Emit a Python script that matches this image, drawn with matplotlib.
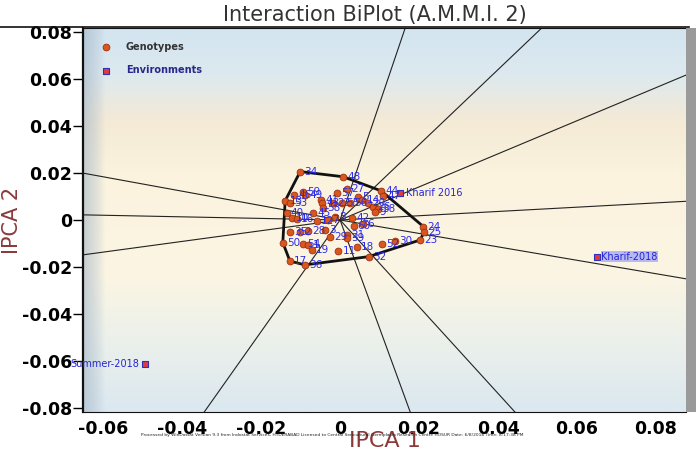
import numpy as np
import matplotlib.pyplot as plt
from matplotlib.lines import Line2D
from matplotlib.patches import Rectangle

plt.rcParams['font.family'] = ['DejaVu Sans']

# Genotype scores (IPCA 1, IPCA 2)
gen_labels = ['34', '48', '44', '24', '25', '23', '32', '36', '17', '50',
              '13', '53', '46', '59', '49', '41', '43', '58', '57', '27',
              '22', '55', '56', '5', '14', '20', '26', '38', '9', '47',
              '45', '40', '10', '16', '7', '8', '12', '42', '6', '60',
              '35', '2', '28', '3', '29', '21', '39', '52', '30', '54',
              '1', '19', '11', '18']
gen_x = [-0.0101, 0.0008, 0.0104, 0.0211, 0.0213, 0.0203, 0.0072, -0.0089, -0.0127, -0.0145,
         -0.0139, -0.0127, -0.0116, -0.0093, -0.0089, -0.0048, -0.0046, -0.0044, -0.0007, 0.0017,
         -0.0017, 0.0004, 0.0025, 0.0046, 0.0056, 0.0070, 0.0084, 0.0097, 0.0089, 0.0109,
         -0.0069, -0.0135, -0.0122, -0.0110, -0.0030, -0.0013, -0.0059, 0.0030, 0.0058, 0.0034,
         -0.0127, -0.0101, -0.0080, -0.0038, -0.0025, 0.0017, 0.0017, 0.0106, 0.0139, -0.0093,
         -0.0080, -0.0072, -0.0004, 0.0042]
gen_y = [0.0206, 0.0184, 0.0124, -0.0028, -0.0050, -0.0085, -0.0156, -0.0191, -0.0175, -0.0096,
         0.0082, 0.0074, 0.0106, 0.0121, 0.0106, 0.0085, 0.0071, 0.0050, 0.0113, 0.0130,
         0.0074, 0.0071, 0.0074, 0.0099, 0.0085, 0.0074, 0.0054, 0.0045, 0.0035, 0.0102,
         0.0028, 0.0031, 0.0007, 0.0004, 0.0000, 0.0014, -0.0003, 0.0007, -0.0017, -0.0026,
         -0.0050, -0.0050, -0.0045, -0.0043, -0.0074, -0.0064, -0.0078, -0.0102, -0.0088, -0.0102,
         -0.0106, -0.0128, -0.0131, -0.0116]

# Environment scores
env_names = ['Kharif 2016', 'Kharif-2018', 'Summer-2018']
env_x = [0.0152, 0.0651, -0.0494]
env_y = [0.0115, -0.0157, -0.0613]

ticks = [-0.08, -0.06, -0.04, -0.02, 0, 0.02, 0.04, 0.06, 0.08]


def convex_hull(points):
    pts = sorted(set(points))

    def cross(o, a, b):
        return (a[0] - o[0]) * (b[1] - o[1]) - (a[1] - o[1]) * (b[0] - o[0])

    lower, upper = [], []
    for p in pts:
        while len(lower) >= 2 and cross(lower[-2], lower[-1], p) <= 0:
            lower.pop()
        lower.append(p)
    for p in reversed(pts):
        while len(upper) >= 2 and cross(upper[-2], upper[-1], p) <= 0:
            upper.pop()
        upper.append(p)
    return lower[:-1] + upper[:-1]  # counter-clockwise


fig = plt.figure(figsize=(6.96, 4.55), dpi=100)
ax = fig.add_axes([83 / 696, 1 - 412 / 455, 603 / 696, 384 / 455])
xlim = (-0.0651, 0.0876)
ylim = (-0.0817, 0.0817)

# background gradient
stops_t = [0.0, 0.12, 0.24, 0.38, 0.65, 0.80, 1.0]
stops_c = ['#d3e5f1', '#dde9ef', '#f4ead6', '#fbf3de', '#fbf5e3', '#edf1ea', '#dbe8f0']
rgb = np.array([[int(c[i:i + 2], 16) / 255 for i in (1, 3, 5)] for c in stops_c])
tt = np.linspace(0, 1, 300)
vert = np.stack([np.interp(tt, stops_t, rgb[:, k]) for k in range(3)], axis=1)
img = np.repeat(vert[:, None, :], 300, axis=1)
fx = np.linspace(0, 1, 300)
edge = np.clip(1 - fx / 0.035, 0, 1)[None, :, None] ** 0.8 * 0.6
img = img * (1 - edge) + np.array([0.64, 0.71, 0.78]) * edge
ax.imshow(img, extent=[xlim[0], xlim[1], ylim[0], ylim[1]], aspect='auto', zorder=0)

# convex hull of genotypes and perpendicular rays
hull = convex_hull(list(zip(gen_x, gen_y)))
hx = [p[0] for p in hull] + [hull[0][0]]
hy = [p[1] for p in hull] + [hull[0][1]]
for i in range(len(hull)):
    p, q = hull[i], hull[(i + 1) % len(hull)]
    nx, ny = q[1] - p[1], -(q[0] - p[0])
    nrm = np.hypot(nx, ny)
    ax.plot([0, nx / nrm], [0, ny / nrm], color='#222222', lw=0.8, zorder=2)
ax.plot(hx, hy, color='#111111', lw=2.0, zorder=3)

ax.scatter(gen_x, gen_y, s=24, color='#d9561f', edgecolor='#9a3010', lw=0.6,
           zorder=4, label='Genotypes')
for lab, x, y in zip(gen_labels, gen_x, gen_y):
    ax.annotate(lab, (x, y), xytext=(3, 0), textcoords='offset points',
                ha='left', va='center', fontsize=7.5, color='#2b2bea', zorder=5)

ax.scatter(env_x, env_y, s=20, marker='s', color='#e03a3a', edgecolor='#2f2fc0', lw=0.8,
           zorder=4, label='Environments')
for name, x, y in zip(env_names, env_x, env_y):
    if x < -0.04:
        ax.annotate(name, (x, y), xytext=(-4, 0), textcoords='offset points',
                    ha='right', va='center', fontsize=7, color='#2424d8', zorder=5)
    elif x > 0.05:
        ax.annotate(name, (x, y), xytext=(3, 0), textcoords='offset points',
                    ha='left', va='center', fontsize=7, color='#2424d8', zorder=5,
                    bbox=dict(boxstyle='square,pad=0.05', fc='#b9b9f2', ec='none'))
    else:
        ax.annotate(name, (x, y), xytext=(4, 0), textcoords='offset points',
                    ha='left', va='center', fontsize=7, color='#2424d8', zorder=5)

ax.set_xticks(ticks)
ax.set_yticks(ticks)
ax.set_xlim(xlim)
ax.set_ylim(ylim)
fmt = lambda v: '0' if v == 0 else '%.2f' % v
ax.set_xticklabels([fmt(v) for v in ticks], fontsize=12.5, fontweight='bold')
ax.set_yticklabels([fmt(v) for v in ticks], fontsize=12.5, fontweight='bold')
ax.tick_params(axis='y', length=7, width=1, pad=1)
ax.tick_params(axis='x', length=0, pad=6)
for s in ['left', 'bottom', 'top']:
    ax.spines[s].set_color('#111111')
ax.spines['left'].set_linewidth(1.6)
ax.spines['right'].set_visible(False)

ax.set_xlabel('IPCA 1', fontsize=16, color='#8b3a3a', labelpad=-5)
ax.set_ylabel('IPCA 2', fontsize=15, color='#8b3a3a', labelpad=0)

leg = ax.legend(loc='upper left', frameon=False, fontsize=7, handletextpad=1.0,
                borderaxespad=0.8, borderpad=0.6, labelspacing=1.4, scatterpoints=1)
for txt, c in zip(leg.get_texts(), ['#333333', '#28288a']):
    txt.set_color(c)
    txt.set_fontweight('bold')

fig.text(375 / 696, 1 - 15 / 455, 'Interaction BiPlot (A.M.M.I. 2)', ha='center',
         va='center', fontsize=15, color='#333333')
fig.lines.append(Line2D([0.0, 0.99], [1 - 27 / 455, 1 - 27 / 455], transform=fig.transFigure,
                        color='#111111', lw=1.2))
fig.patches.append(Rectangle((686 / 696, 1 - 412 / 455), 10 / 696, 384 / 455,
                             transform=fig.transFigure, fc='#9a9a9a', ec='none'))
fig.text(332 / 696, 1 - 435 / 455,
         'Processed by WinDostat Version 9.3 from Indostat Services, HYDERABAD Licensed to '
         'Central Sericultural Germplasm Research Centre HOSUR Date: 6/8/2018 Time: 8:17:38 PM',
         ha='center', va='center', fontsize=3.2, color='#222222')

fig.savefig('out.png', dpi=100)
